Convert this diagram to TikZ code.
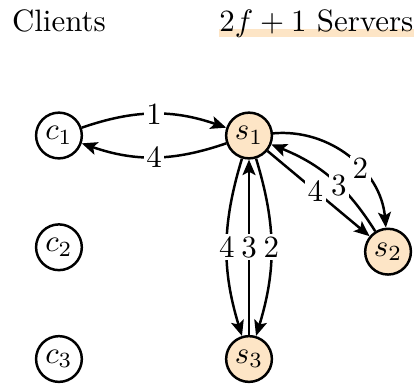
\documentclass[tikz,border=0pt]{standalone}
\usepackage{amsmath}
\usepackage{tikz}
\usetikzlibrary{arrows.meta}
\usetikzlibrary{backgrounds}
\definecolor{srvfill}{HTML}{FDE5C6}
\tikzset{
  proc/.style={circle,draw,line width=0.8pt,minimum size=0.52cm,inner sep=0pt},
  server/.style={proc,fill=srvfill},
  msg/.style={line width=0.8pt,-{Stealth[length=5pt,width=4.2pt,inset=1.1pt]}},
  lbl/.style={fill=white,inner sep=0.8pt}
}

\begin{document}
\begin{tikzpicture}
	\useasboundingbox (0,0) rectangle (4.705,-4.41);
	\node [anchor=base] (clients) at (0.67,-0.36) {Clients};
	\node [anchor=base east,inner sep=0pt] (servers) at (4.705,-0.36) {$2f+1$ Servers};
	\begin{scope}[on background layer]
	\fill [srvfill] ([yshift=0.9pt]servers.base west) rectangle ([yshift=-1.7pt]servers.base east);
	\end{scope}

	% clients
	\node [proc] (c1) at (0.67,-1.54) {$c_1$};
	\node [proc] (c2) at (0.67,-2.81) {$c_2$};
	\node [proc] (c3) at (0.67,-4.08) {$c_3$};
	% servers
	\node [server] (s1) at (2.83,-1.54) {$s_1$};
	\node [server] (s2) at (4.41,-2.86) {$s_2$};
	\node [server] (s3) at (2.83,-4.08) {$s_3$};

	\draw [msg] (c1) to [bend left=19] node [lbl]{1} (s1);
	\draw [msg] (s1) to [bend left=19] node [lbl]{4} (c1);

	\draw [msg] (s1) to [bend left=45] node [lbl,pos=0.6]{2} (s2);
	\draw [msg] (s2) to [bend right=18] node [lbl,pos=0.42]{3} (s1);
	\draw [msg] (s1) -- node [lbl,pos=0.47]{4} (s2);

	\draw [msg] (s1) to [bend left=17] node [lbl]{2} (s3);
	\draw [msg] (s3) -- node [lbl]{3} (s1);
	\draw [msg] (s1) to [bend right=17] node [lbl]{4} (s3);
\end{tikzpicture}
\end{document}
